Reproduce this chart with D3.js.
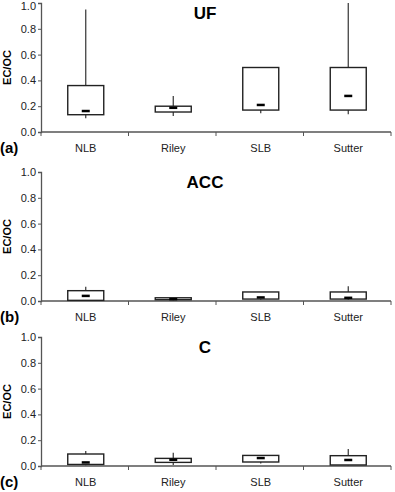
<!doctype html>
<html>
<head>
<script src="https://cdn.jsdelivr.net/npm/d3@7"></script>
<style>
  body { margin: 0; background: #fff; }
  svg { font-family: "Liberation Sans", Arial, sans-serif; }
</style>
</head>
<body>
<svg width="395" height="492"></svg>
<script>
var sites = ["NLB", "Riley", "SLB", "Sutter"];
var panelNames = ["UF", "ACC", "C"];
var panelTags = ["(a)", "(b)", "(c)"];
var yTicks = [0, 0.2, 0.4, 0.6, 0.8, 1.0];

// box plot stats per panel, in site order
var lowUF = [0.106, 0.124, 0.145, 0.137];
var q1UF = [0.134, 0.155, 0.17, 0.17];
var medUF = [0.163, 0.188, 0.21, 0.28];
var q3UF = [0.36, 0.20, 0.50, 0.50];
var highUF = [0.95, 0.28, 0.50, 1.0];

var lowACC = [0.0, 0.005, 0.01, 0.01];
var q1ACC = [0.005, 0.01, 0.015, 0.015];
var medACC = [0.04, 0.015, 0.028, 0.025];
var q3ACC = [0.08, 0.025, 0.07, 0.07];
var highACC = [0.11, 0.025, 0.07, 0.114];

var lowC = [0.005, 0.008, 0.02, 0.005];
var q1C = [0.012, 0.028, 0.031, 0.008];
var medC = [0.028, 0.049, 0.062, 0.047];
var q3C = [0.093, 0.059, 0.082, 0.08];
var highC = [0.116, 0.103, 0.082, 0.132];

var stats = [
  [lowUF, q1UF, medUF, q3UF, highUF],
  [lowACC, q1ACC, medACC, q3ACC, highACC],
  [lowC, q1C, medC, q3C, highC]
];

var svg = d3.select("svg");
var tops = [3, 172, 337];
var plotH = 129;
var axisColor = "#555";

var x = d3.scaleBand().domain(sites).range([41, 391]);

panelNames.forEach(function(name, p) {
  var top = tops[p];
  var y = d3.scaleLinear().domain([0, 1]).range([top + plotH, top]);
  var g = svg.append("g");
  var s = stats[p];

  // y axis
  var yAxis = d3.axisLeft(y).tickValues(yTicks).tickFormat(d3.format(".1f")).tickSize(3).tickPadding(2);
  var ya = g.append("g").attr("transform", "translate(41,0)").call(yAxis);
  ya.select(".domain").attr("stroke", axisColor).attr("stroke-width", 1.3);
  ya.selectAll(".tick line").attr("stroke", axisColor);
  ya.selectAll(".tick text").attr("font-size", 11).attr("fill", "#222");
  if (p == 0) {
    // keep the top label inside the page
    ya.selectAll(".tick text").filter(function(d) { return d == 1; }).attr("dy", "0.6em");
  }

  // x axis
  var xa = g.append("g").attr("transform", "translate(0," + (top + plotH) + ")");
  xa.append("line").attr("x1", 41).attr("x2", 391).attr("y1", 0).attr("y2", 0)
    .attr("stroke", axisColor).attr("stroke-width", 1.5);
  var bounds = sites.map(function(d) { return x(d); }).concat([391]);
  xa.selectAll(".xt").data(bounds).enter().append("line")
    .attr("x1", function(d) { return d; }).attr("x2", function(d) { return d; })
    .attr("y1", 0).attr("y2", 4).attr("stroke", axisColor);
  xa.selectAll(".xl").data(sites).enter().append("text")
    .attr("x", function(d) { return x(d) + x.bandwidth() / 2 + 1; })
    .attr("y", 20)
    .attr("text-anchor", "middle").attr("font-size", 11).attr("fill", "#222")
    .text(function(d) { return d; });

  // boxes
  var bw = 36;
  sites.forEach(function(site, i) {
    var cx = x(site) + x.bandwidth() / 2 + 1;
    var lo = s[0][i], q1 = s[1][i], md = s[2][i], q3 = s[3][i], hi = s[4][i];
    g.append("line").attr("x1", cx).attr("x2", cx).attr("y1", y(hi)).attr("y2", y(q3))
      .attr("stroke", "#333").attr("stroke-width", 1.2);
    g.append("line").attr("x1", cx).attr("x2", cx).attr("y1", y(q1)).attr("y2", y(lo))
      .attr("stroke", "#333").attr("stroke-width", 1.2);
    g.append("rect").attr("x", cx - bw / 2).attr("y", y(q3))
      .attr("width", bw).attr("height", Math.max(1, y(q1) - y(q3)))
      .attr("fill", "#fff").attr("stroke", "#222").attr("stroke-width", 1.4);
    g.append("rect").attr("x", cx - 4).attr("y", y(md) - 1.2)
      .attr("width", 8).attr("height", 2.5).attr("fill", "#000");
  });

  // titles and labels
  g.append("text").attr("x", 205).attr("y", top + 16)
    .attr("text-anchor", "middle").attr("font-size", 17).attr("font-weight", "bold")
    .text(name);
  g.append("text").attr("x", 0).attr("y", top + plotH + 21)
    .attr("font-size", 15).attr("font-weight", "bold").text(panelTags[p]);
  g.append("text")
    .attr("transform", "translate(11," + (top + plotH / 2) + ") rotate(-90)")
    .attr("text-anchor", "middle").attr("font-size", 11).attr("font-weight", "bold")
    .text("EC/OC");
});
</script>
</body>
</html>
